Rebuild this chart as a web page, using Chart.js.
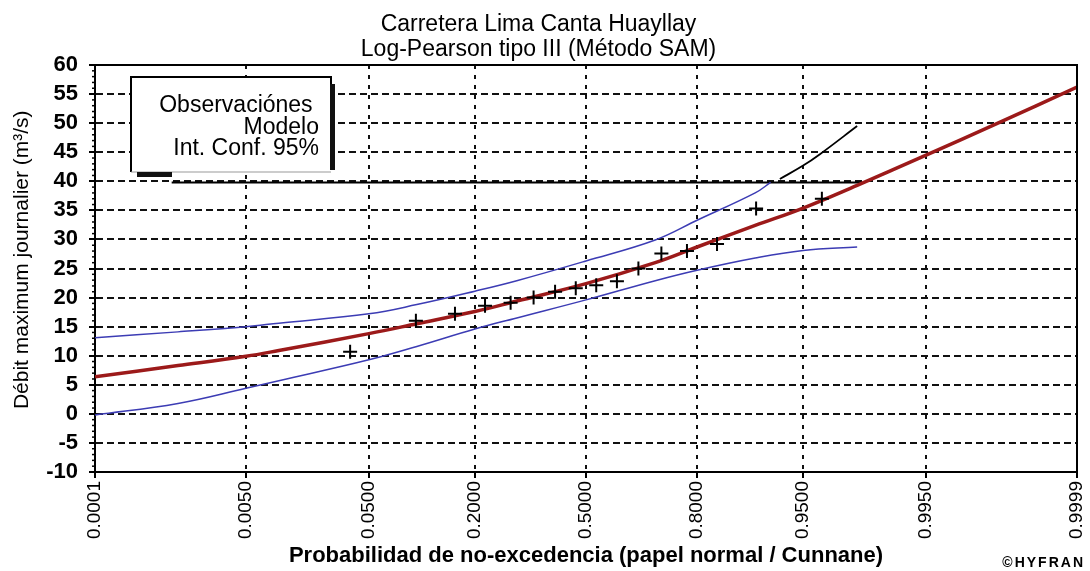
<!DOCTYPE html>
<html>
<head>
<meta charset="utf-8">
<script src="https://cdn.jsdelivr.net/npm/chart.js@4.4.1/dist/chart.umd.min.js"></script>
<style>
html,body{margin:0;padding:0;background:#fff;}
#wrap{width:1090px;height:571px;position:relative;}
</style>
</head>
<body>
<div id="wrap"><canvas id="c" width="1090" height="571"></canvas></div>
<script>
// ---------- texts ----------
const chartTitle = ['Carretera Lima Canta Huayllay', 'Log-Pearson tipo III (Método SAM)'];
const xAxisTitle = 'Probabilidad de no-excedencia (papel normal / Cunnane)';
const yAxisTitle = 'Débit maximum journalier (m³/s)';
const legendLabels = ['Observaciónes ', 'Modelo', 'Int. Conf. 95%'];
const creditText = '©HYFRAN';

// ---------- axes ----------
const xTickProbs = [0.0001, 0.005, 0.05, 0.2, 0.5, 0.8, 0.95, 0.995, 0.9999];
const xTickLabels = ['0.0001', '0.0050', '0.0500', '0.2000', '0.5000', '0.8000', '0.9500', '0.9950', '0.9999'];
const yMin = -10, yMax = 60, yStep = 5;

// ---------- data ----------
const obsProb = [0.0370, 0.0988, 0.1605, 0.2222, 0.2840, 0.3457, 0.4074, 0.4691, 0.5309, 0.5926, 0.6543, 0.7160, 0.7778, 0.8395, 0.9012, 0.9630];
const obsQ    = [10.7, 16.0, 17.2, 18.6, 19.1, 20.0, 21.0, 21.6, 22.1, 22.8, 25.0, 27.6, 28.0, 29.2, 35.3, 37.0];

const modelProb = [0.0001, 0.001, 0.005, 0.01, 0.05, 0.1, 0.2, 0.3, 0.5, 0.7, 0.8, 0.9, 0.95, 0.98, 0.99, 0.995, 0.999, 0.9999];
const modelQ    = [6.4, 8.3, 9.9, 10.9, 13.8, 15.5, 17.6, 19.4, 22.4, 26.0, 28.7, 32.4, 35.4, 39.3, 42.0, 44.5, 49.7, 56.2];

const upperProb = [0.0001, 0.001, 0.005, 0.01, 0.05, 0.1, 0.2, 0.3, 0.5, 0.7, 0.8, 0.9, 0.919];
const upperQ    = [13.1, 14.1, 15.0, 15.6, 17.2, 18.8, 21.1, 22.9, 26.3, 29.9, 33.3, 38.0, 39.8];

const lowerProb = [0.0001, 0.001, 0.005, 0.01, 0.05, 0.1, 0.2, 0.3, 0.5, 0.7, 0.8, 0.9, 0.95, 0.98];
const lowerQ    = [-0.2, 1.8, 4.4, 5.7, 9.3, 11.6, 14.6, 16.5, 19.6, 22.9, 24.7, 26.8, 28.1, 28.7];

const upperExtProb = [0.929, 0.95, 0.962, 0.98];
const upperExtQ    = [40.4, 42.7, 44.7, 49.5];

const boxLineProb = [0.00085, 0.9817];
const boxLineQ    = [39.8, 39.8];

// ---------- normal probability transform (for the scale) ----------
function probit(p) {
  const a=[-3.969683028665376e+01,2.209460984245205e+02,-2.759285104469687e+02,1.383577518672690e+02,-3.066479806614716e+01,2.506628277459239e+00];
  const b=[-5.447609879822406e+01,1.615858368580409e+02,-1.556989798598866e+02,6.680131188771972e+01,-1.328068155288572e+01];
  const c=[-7.784894002430293e-03,-3.223964580411365e-01,-2.400758277161838e+00,-2.549732539343734e+00,4.374664141464968e+00,2.938163982698783e+00];
  const d=[7.784695709041462e-03,3.224671290700398e-01,2.445134137142996e+00,3.754408661907416e+00];
  const pl = 0.02425, ph = 1 - pl;
  let q, r;
  if (p < pl) { q = Math.sqrt(-2*Math.log(p)); return (((((c[0]*q+c[1])*q+c[2])*q+c[3])*q+c[4])*q+c[5])/((((d[0]*q+d[1])*q+d[2])*q+d[3])*q+1); }
  if (p > ph) { q = Math.sqrt(-2*Math.log(1-p)); return -(((((c[0]*q+c[1])*q+c[2])*q+c[3])*q+c[4])*q+c[5])/((((d[0]*q+d[1])*q+d[2])*q+d[3])*q+1); }
  q = p - 0.5; r = q*q;
  return (((((a[0]*r+a[1])*r+a[2])*r+a[3])*r+a[4])*r+a[5])*q/(((((b[0]*r+b[1])*r+b[2])*r+b[3])*r+b[4])*r+1);
}
function normCdf(z) {
  const t = 1/(1+0.2316419*Math.abs(z));
  const y = 0.3989423*Math.exp(-z*z/2)*t*(0.3193815+t*(-0.3565638+t*(1.781478+t*(-1.821256+t*1.330274))));
  return z > 0 ? 1 - y : y;
}

class ProbitScale extends Chart.LinearScale {
  determineDataLimits() {
    this.min = probit(this.options.min);
    this.max = probit(this.options.max);
  }
  buildTicks() { return xTickProbs.map(p => ({ value: p })); }
  getPixelForValue(value) {
    if (value === null || value === undefined || isNaN(value)) return NaN;
    return super.getPixelForValue(probit(value));
  }
  getValueForPixel(pixel) { return normCdf(super.getValueForPixel(pixel)); }
}
ProbitScale.id = 'probit';
ProbitScale.defaults = Chart.LinearScale.defaults;
Chart.register(ProbitScale);

const FONT = "'Liberation Sans', Arial, sans-serif";
Chart.defaults.font.family = FONT;
Chart.defaults.color = '#000';

const pts = (xs, ys) => xs.map((x, i) => ({ x: x, y: ys[i] }));

// ---------- decoration plugin: frame, minor ticks, legend box, credit ----------
const decor = {
  id: 'decor',
  afterDraw(chart) {
    const { ctx, chartArea: ca, scales } = chart;
    ctx.save();
    // frame (top & right)
    ctx.strokeStyle = '#000';
    ctx.lineWidth = 2;
    ctx.beginPath();
    ctx.moveTo(ca.left, ca.top); ctx.lineTo(ca.right, ca.top); ctx.lineTo(ca.right, ca.bottom);
    ctx.stroke();
    // minor y ticks
    ctx.lineWidth = 1.5;
    for (let v = yMin; v <= yMax; v++) {
      if (v % yStep === 0) continue;
      const y = scales.y.getPixelForValue(v);
      ctx.beginPath(); ctx.moveTo(ca.left - 3, y); ctx.lineTo(ca.left, y); ctx.stroke();
    }
    // legend box
    const bx = 131, by = 77, bw = 200, bh = 95;
    ctx.fillStyle = '#fff';
    ctx.fillRect(bx, by, bw, bh);
    ctx.strokeStyle = '#000';
    ctx.lineWidth = 2;
    ctx.beginPath();
    ctx.moveTo(bx, by + bh); ctx.lineTo(bx, by); ctx.lineTo(bx + bw, by); ctx.lineTo(bx + bw, by + 8);
    ctx.stroke();
    ctx.strokeStyle = '#999';
    ctx.lineWidth = 1;
    ctx.beginPath(); ctx.moveTo(bx, by + bh); ctx.lineTo(bx + bw, by + bh); ctx.stroke();
    ctx.fillStyle = '#111';
    ctx.fillRect(bx + bw - 1, by + 7, 5, bh - 9);
    ctx.fillRect(bx + 6, by + bh, 35, 5);
    ctx.fillStyle = '#000';
    ctx.font = '23px ' + FONT;
    ctx.textAlign = 'right';
    ctx.textBaseline = 'alphabetic';
    const baselines = [112, 133.5, 155];
    legendLabels.forEach((t, i) => ctx.fillText(t, 319, baselines[i]));
    // credit
    ctx.font = 'bold 14px ' + FONT;
    if ('letterSpacing' in ctx) ctx.letterSpacing = '2px';
    ctx.fillText(creditText, 1085, 567);
    ctx.restore();
  }
};

new Chart(document.getElementById('c'), {
  type: 'scatter',
  data: {
    datasets: [
      {
        label: 'Observaciónes',
        data: pts(obsProb, obsQ),
        showLine: false,
        pointStyle: 'cross',
        pointRadius: 7,
        pointBorderWidth: 2,
        borderColor: '#000',
        backgroundColor: '#000'
      },
      {
        label: 'Modelo',
        data: pts(modelProb, modelQ),
        showLine: true,
        borderColor: '#9c1a1a',
        borderWidth: 3.5,
        pointRadius: 0,
        tension: 0.4
      },
      {
        label: 'Int. Conf. 95%',
        data: pts(upperProb, upperQ),
        showLine: true,
        borderColor: '#3c3cb4',
        borderWidth: 1.5,
        pointRadius: 0,
        tension: 0.4
      },
      {
        label: 'Int. Conf. 95% (inf)',
        data: pts(lowerProb, lowerQ),
        showLine: true,
        borderColor: '#3c3cb4',
        borderWidth: 1.5,
        pointRadius: 0,
        tension: 0.4
      },
      {
        label: 'ext',
        data: pts(upperExtProb, upperExtQ),
        showLine: true,
        borderColor: '#000',
        borderWidth: 1.8,
        pointRadius: 0,
        tension: 0.4
      },
      {
        label: 'box line',
        data: pts(boxLineProb, boxLineQ),
        showLine: true,
        borderColor: '#000',
        borderWidth: 2,
        pointRadius: 0
      }
    ]
  },
  options: {
    responsive: false,
    animation: false,
    events: [],
    layout: { padding: { left: 0, right: 13, top: 0, bottom: 0 } },
    plugins: {
      legend: { display: false },
      tooltip: { enabled: false },
      title: {
        display: true,
        text: chartTitle,
        color: '#000',
        font: { size: 23, weight: 'normal', lineHeight: 1.087 },
        padding: { top: 12, bottom: 3 }
      }
    },
    scales: {
      x: {
        type: 'probit',
        min: 0.0001,
        max: 0.9999,
        afterFit(s) { s.height = 99; s.paddingLeft = 0; s.paddingRight = 0; },
        border: { display: true, color: '#000', width: 2, dash: [4, 6] },
        grid: { color: '#111', lineWidth: 2, drawTicks: true, tickLength: 6, tickColor: '#000', tickWidth: 2 },
        ticks: {
          autoSkip: false,
          minRotation: 90,
          maxRotation: 90,
          padding: 3,
          font: { size: 19 },
          color: '#000',
          callback: (v, i) => xTickLabels[i]
        },
        title: {
          display: true,
          text: xAxisTitle,
          color: '#000',
          font: { size: 22, weight: 'bold' },
          padding: { top: 0, bottom: 2 }
        }
      },
      y: {
        min: yMin,
        max: yMax,
        afterFit(s) { s.width = 95; },
        border: { display: true, color: '#000', width: 2, dash: [7, 4] },
        grid: { color: '#111', lineWidth: 2, drawTicks: true, tickLength: 6, tickColor: '#000', tickWidth: 2 },
        ticks: {
          stepSize: yStep,
          autoSkip: false,
          padding: 11,
          font: { size: 22, weight: 'bold' },
          color: '#000'
        },
        title: {
          display: true,
          text: '   ' + yAxisTitle,
          color: '#000',
          font: { size: 21, weight: 'normal' },
          padding: { top: 10, bottom: 0 }
        }
      }
    }
  },
  plugins: [decor]
});
</script>
</body>
</html>
